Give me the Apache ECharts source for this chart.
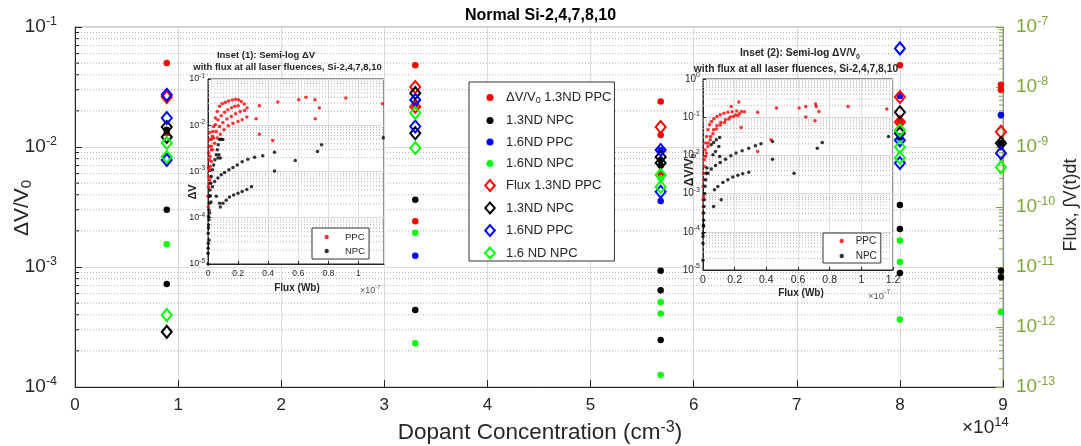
<!DOCTYPE html>
<html><head><meta charset="utf-8">
<script src="https://cdn.jsdelivr.net/npm/echarts@6/dist/echarts.min.js"></script>
<style>html,body{margin:0;padding:0;background:#fff}#c{width:1081px;height:446px}</style>
</head><body><div id="c"></div>
<script>
// ---------- data ----------
// dopant concentration columns (×1e14 cm^-3)
const dopant = [0.89, 3.30, 5.68, 8.00, 8.98];
const xTicks = [0,1,2,3,4,5,6,7,8,9];

// ΔV/V0 values (left axis), one list per dopant column
const dvPPC13 = [[0.050, 0.0131], [0.048, 0.022, 0.0024], [0.0239, 0.0126, 0.0059], [0.048, 0.0162], [0.033, 0.030]];
const dvNPC13 = [[0.0139, 0.0030, 0.00072], [0.00363, 0.000438], [0.0078, 0.0070, 0.00093, 0.00064, 0.000246], [0.00329, 0.00207, 0.00089], [0.0108, 0.00093, 0.00082]];
const dvPPC16 = [[], [0.0233, 0.00124], [0.0094, 0.00355], [0.0266, 0.0119], [0.0185]];
const dvNPC16 = [[0.00155], [0.00193, 0.000231], [0.0055, 0.00051, 0.00041, 0.000126], [0.00166, 0.0011, 0.000366], [0.00042]];

// Flux ∫V(t)dt values (right axis)
const fluxPPC13 = [[6.8e-9], [1.0e-8, 4.7e-9], [2.15e-9], [6.8e-9, 2.6e-9], [1.8e-9]];
const fluxNPC13 = [[2.15e-9, 1.47e-9, 8.3e-13], [7.9e-9, 1.7e-9], [6.8e-10, 5.4e-10], [3.8e-9, 1.7e-9], [1.16e-9]];
const fluxPPC16 = [[7.4e-9, 3.05e-9, 6.1e-10], [6.1e-9, 2.2e-9], [8.9e-10, 1.8e-10], [4.4e-8, 1.3e-9, 5.4e-10], [7.9e-10]];
const fluxNPC16 = [[1.17e-9, 6.8e-10, 1.58e-12], [3.7e-9, 9.6e-10], [3.4e-10, 2.15e-10], [1.9e-9, 1.0e-9, 6.6e-10], [4.6e-10]];

// Inset (1): flux (×1e-7 Wb) vs ΔV
const inset1PPC = [
 [0.011,6.6e-4],[0.015,1.3e-3],[0.022,2.95e-3],[0.029,5.8e-3],[0.038,9.4e-3],[0.049,0.0143],[0.062,0.0199],[0.077,0.0256],[0.095,0.0292],[0.115,0.0313],[0.137,0.0334],[0.161,0.0351],[0.183,0.0363],[0.203,0.0357],[0.221,0.0328],[0.241,0.0288],[0.26,0.0236],
 [0.022,4.9e-3],[0.033,7.3e-3],[0.049,0.0102],[0.066,0.0132],[0.088,0.0161],[0.110,0.019],[0.132,0.0217],[0.157,0.0239],[0.179,0.0256],[0.201,0.0264],
 [0.022,3.5e-3],[0.038,5.3e-3],[0.055,7.3e-3],[0.077,9.4e-3],[0.099,0.0115],[0.126,0.0136],[0.155,0.0155],[0.183,0.0177],[0.214,0.0199],[0.243,0.0209],[0.258,0.015],
 [0.015,2.1e-3],[0.029,2.95e-3],[0.044,4.1e-3],[0.062,5.3e-3],[0.082,6.4e-3],[0.106,8.0e-3],[0.135,9.8e-3],[0.166,0.0111],[0.199,0.0121],[0.227,0.0132],
 [0.342,0.0264],[0.464,0.0318],[0.342,6.4e-3],[0.43,4.7e-3],[0.32,0.0138],[0.603,0.0357],[0.651,0.0401],[0.711,0.0357],[0.74,0.0236],[0.713,0.0138],[0.916,0.0387],[1.16,0.029],
 [0,2.9e-4],[0.004,4.7e-4],[0.007,7.8e-4],[0.011,1.09e-3],[0.022,1.65e-3],[0.002,1.7e-4],[0.009,1.8e-3],[0.013,5.6e-4],[0.005,2.5e-3],[0.008,3.5e-3],[0.01,5e-3],[0.012,7e-3],[0.003,1.2e-3]
];
const inset1NPC = [
 [0,1e-5],[0,1.7e-5],[0.002,2.8e-5],[0.002,4.6e-5],[0.004,7e-5],[0.004,1.06e-4],[0.007,1.48e-4],[0.009,2.06e-4],[0.011,2.9e-4],[0.013,4e-4],[0.018,5.6e-4],[0.022,7.8e-4],[0.007,3.3e-5],[0.011,1.26e-4],[0.001,2.2e-5],[0.003,6e-5],[0.006,9e-5],[0.015,3e-4],[0.02,2.2e-4],
 [0.029,1.09e-3],[0.038,1.39e-3],[0.046,1.79e-3],[0.055,2.3e-3],[0.062,2.95e-3],[0.068,3.8e-3],[0.077,4.9e-3],[0.088,5.0e-3],[0.099,4.9e-3],[0.073,2.3e-3],[0.082,1.95e-3],[0.066,1.95e-3],
 [0.029,4.7e-4],[0.044,6.1e-4],[0.066,7.2e-4],[0.088,8.5e-4],[0.110,9.5e-4],[0.139,1.09e-3],[0.166,1.22e-3],[0.194,1.39e-3],[0.227,1.62e-3],[0.265,1.85e-3],[0.309,2.04e-3],[0.364,2.19e-3],
 [0.055,2.9e-4],[0.077,2.06e-4],[0.082,1.7e-4],[0.099,2.06e-4],[0.121,2.4e-4],[0.143,2.8e-4],[0.170,3.1e-4],[0.199,3.4e-4],[0.227,3.7e-4],[0.258,4.1e-4],[0.289,4.7e-4],
 [0.442,1.03e-3],[0.58,1.73e-3],[0.728,2.7e-3],[0.755,3.8e-3],[0.442,2.6e-3],[1.165,5.4e-3]
];
// Inset (2): flux (×1e-7 Wb) vs ΔV/V0
const inset2PPC = [
 [0,6.9e-4],[0.002,1.55e-3],[0.004,3.4e-3],[0.008,7.7e-3],[0.013,0.014],[0.017,0.021],[0.023,0.0314],[0.031,0.0469],[0.042,0.0634],[0.054,0.0776],[0.069,0.091],[0.088,0.105],[0.109,0.116],[0.132,0.126],[0.157,0.134],[0.184,0.139],[0.213,0.145],[0.243,0.142],[0.262,0.139],
 [0.010,5.1e-3],[0.021,0.0115],[0.033,0.021],[0.048,0.0314],[0.067,0.0469],[0.088,0.0597],[0.113,0.073],[0.142,0.0859],[0.172,0.101],[0.205,0.114],[0.230,0.123],
 [0.017,9.3e-3],[0.031,0.0171],[0.046,0.0256],[0.063,0.0368],[0.084,0.0489],[0.109,0.0622],[0.136,0.073],[0.163,0.0893],[0.192,0.105],[0.22,0.109],
 [0.226,0.249],[0.178,0.192],
 [0.241,0.054],[0.345,0.134],[0.345,0.0127],[0.429,0.0256],[0.464,0.174],[0.607,0.174],[0.649,0.192],[0.649,0.101],[0.711,0.221],[0.715,0.192],[0.732,0.142],[0.707,0.081],[0.916,0.192],[1.161,0.163],
 [0,3.1e-4],[0.002,4.6e-4],[0.004,8.4e-4],[0.006,2.3e-3]
];
const inset2NPC = [
 [0,1.8e-5],[0,5e-5],[0,9.2e-5],[0.002,1.5e-4],[0.004,2.0e-4],[0.004,3.1e-4],[0.006,4.6e-4],[0.008,6.9e-4],[0.010,1.0e-3],[0.013,1.55e-3],[0.017,2.3e-3],[0.021,3.4e-3],[0.025,4.7e-3],[0.004,1.4e-4],[0,7.5e-5],
 [0.052,0.019],[0.067,0.0218],[0.084,0.0256],[0.105,0.0295],[0.1,0.0171],[0.079,0.0127],[0.105,9.3e-3],[0.063,0.0104],
 [0.031,3.4e-3],[0.052,4.4e-3],[0.079,5.4e-3],[0.109,6.5e-3],[0.142,7.9e-3],[0.176,9.8e-3],[0.209,0.0115],[0.247,0.0132],[0.289,0.0155],[0.331,0.0179],[0.366,0.0201],
 [0.067,4.6e-4],[0.073,1.26e-3],[0.094,1.53e-3],[0.126,1.95e-3],[0.157,2.3e-3],[0.188,2.7e-3],[0.22,3.0e-3],[0.251,3.3e-3],[0.289,3.6e-3],[0.115,6.9e-4],
 [0.439,0.0232],[0.439,7.9e-3],[0.575,3.4e-3],[0.722,0.0155],[0.753,0.0219],[1.172,0.0314]
];

const seriesNames = ['ΔV/V0 1.3ND PPC','1.3ND NPC','1.6ND PPC','1.6ND NPC','Flux 1.3ND PPC','1.3ND NPC ','1.6ND PPC ','1.6 ND NPC'];

// ---------- helpers ----------
const FONT = '"Liberation Sans", Arial, Helvetica, sans-serif';
const AX = '#262626';
const OLIVE = '#7ea836';
const RED = '#ff0000', BLK = '#000000', BLU = '#0000ff', GRN = '#00ff00';

function colPts(cols){ const out=[]; cols.forEach((vals,i)=>vals.forEach(v=>out.push([dopant[i], v]))); return out; }
function decadeMinors(lo, hi){ const out=[]; for(let e=lo;e<hi;e++) for(let m=2;m<=9;m++) out.push(+(m*Math.pow(10,e)).toPrecision(3)); return out; }
function expLabel(v){ return '{b|10}{s|' + Math.round(Math.log10(v)) + '}'; }
function expRich(bs, ss, color, lh){ return { b:{fontSize:bs, fontFamily:FONT, color:color, lineHeight:lh}, s:{fontSize:ss, fontFamily:FONT, color:color, verticalAlign:'top', lineHeight:ss} }; }
// legend icons (square bounding box so they stay centred, not stretched)
const dotIcon = 'path://M0,0M12,12M9.5,6A3.5,3.5,0,1,1,2.5,6A3.5,3.5,0,1,1,9.5,6Z';
const diaIcon = 'path://M0,0M12,12M6,0.6L10.8,6L6,11.4L1.2,6Z';
const smallDot = 'path://M0,0M10,10M7.2,5A2.2,2.2,0,1,1,2.8,5A2.2,2.2,0,1,1,7.2,5Z';

function dotSeries(name, color, cols){ return {type:'scatter', name, xAxisIndex:0, yAxisIndex:0, symbol:'circle', symbolSize:6.5, itemStyle:{color, opacity:1}, data:colPts(cols), z:2, silent:true}; }
function diaSeries(name, color, cols){ return {type:'scatter', name, xAxisIndex:0, yAxisIndex:1, symbol:'diamond', symbolSize:[10,12], itemStyle:{color:'rgba(0,0,0,0)', borderColor:color, borderWidth:2, opacity:1}, data:colPts(cols), z:2, silent:true}; }
// horizontal segments (minor dotted grid / minor ticks) drawn through the axes' own scales; '-' breaks the polyline
function segs(xi, yi, vals, x0, x1, style, z){
  const d = []; vals.forEach(v=>{ d.push([x0, v], [x1, v], [x1, '-']); });
  return {type:'line', name:'_seg'+xi+yi+z+x0, xAxisIndex:xi, yAxisIndex:yi, data:d, z:z, silent:true, showSymbol:false, symbol:'none',
    connectNulls:false, lineStyle:style, emphasis:{disabled:true}, animation:false, clip:true};
}
const DOT = {type:[1,2], color:'#b0b0b0', width:1};

function insetX(gi, max, fs){ return {type:'value', gridIndex:gi, min:0, max:max, interval:0.2, z:6,
  axisLine:{show:true, onZero:false, lineStyle:{color:AX}}, axisTick:{show:true, inside:true, length:3, lineStyle:{color:AX}},
  axisLabel:{fontSize:fs, fontFamily:FONT, color:AX, margin:5, showMaxLabel: max>=1.2,
    formatter:v=>{ const r=Math.round(v*5)/5; return Math.abs(r-v)<1e-6 ? String(parseFloat(r.toFixed(1))) : ''; }},
  splitLine:{show:true, lineStyle:{color:'#e2e2e2'}}}; }
function insetY(gi, min, max, bs, ss){ return {type:'log', logBase:10, gridIndex:gi, min:min, max:max, z:6,
  axisLine:{show:true, lineStyle:{color:AX}}, axisTick:{show:true, inside:true, length:3, lineStyle:{color:AX}},
  axisLabel:{formatter:expLabel, margin:3, rich:expRich(bs, ss, AX, bs+4)},
  splitLine:{show:true, lineStyle:{color:'#d8d8d8'}}}; }

function gtext(x, y, text, o){ o = o||{}; return {type:'text', x:x, y:y, rotation:o.rot||0, z:20, silent:true,
  style:{text:text, align:o.align||'center', verticalAlign:'middle', fontSize:o.fs||12, fontWeight:o.fw||'normal', fontFamily:FONT, fill:o.color||AX, rich:o.rich}}; }
function subRich(fs, fw, color){ return { a:{fontSize:fs, fontWeight:fw, fontFamily:FONT, fill:color, color:color, lineHeight:fs+4}, s:{fontSize:Math.round(fs*0.7), fontWeight:fw, fontFamily:FONT, fill:color, color:color, verticalAlign:'bottom', lineHeight:Math.round(fs*0.35)} }; }
function supRich(fs, fw, color){ return { a:{fontSize:fs, fontWeight:fw, fontFamily:FONT, fill:color, color:color, lineHeight:fs+5}, s:{fontSize:Math.round(fs*0.7), fontWeight:fw, fontFamily:FONT, fill:color, color:color, verticalAlign:'top', lineHeight:Math.round(fs*0.7)} }; }

// ---------- option ----------
const chart = echarts.init(document.getElementById('c'), null, {renderer:'canvas'});
const option = {
  animation:false,
  backgroundColor:'#fff',
  title:{text:'Normal Si-2,4,7,8,10', left:'center', top:3, textStyle:{fontSize:16, fontWeight:'bold', fontFamily:FONT, color:'#000'}},
  grid:[
    {left:75, top:27, width:928, height:360, show:true, borderColor:'#9a9a9a', borderWidth:1, backgroundColor:'rgba(0,0,0,0)', z:0},
    {left:208, top:79, width:176, height:185, show:true, backgroundColor:'#fff', borderColor:AX, borderWidth:1, z:5},
    {left:703, top:79, width:190, height:191, show:true, backgroundColor:'#fff', borderColor:AX, borderWidth:1, z:5}
  ],
  xAxis:[
    {type:'value', gridIndex:0, min:0, max:9, interval:1, z:0,
     axisLine:{show:true, onZero:false, lineStyle:{color:AX}}, axisTick:{show:true, inside:true, length:7, lineStyle:{color:AX}},
     axisLabel:{fontSize:17, fontFamily:FONT, color:AX, margin:10, formatter:v=>String(xTicks[Math.round(v)])},
     splitLine:{show:true, lineStyle:{color:'#dcdcdc'}}},
    insetX(1, 1.17, 8.5),
    insetX(2, 1.2, 10.5)
  ],
  yAxis:[
    {type:'log', logBase:10, gridIndex:0, position:'left', min:1e-4, max:1e-1, z:0,
     axisLine:{show:true, lineStyle:{color:AX}}, axisTick:{show:true, inside:true, length:7, lineStyle:{color:AX}},
     axisLabel:{formatter:expLabel, margin:18, rich:expRich(19, 12.5, AX, 24)},
     splitLine:{show:true, lineStyle:{color:'#dcdcdc'}}},
    {type:'log', logBase:10, gridIndex:0, position:'right', min:1e-13, max:1e-7, z:0,
     axisLine:{show:true, lineStyle:{color:OLIVE}}, axisTick:{show:true, inside:true, length:7, lineStyle:{color:OLIVE}},
     axisLabel:{formatter:expLabel, margin:13, rich:expRich(19, 12.5, OLIVE, 24)},
     splitLine:{show:false}},
    insetY(1, 1e-5, 1e-1, 9, 6.5),
    insetY(2, 1e-5, 1, 10, 7)
  ],
  legend:[
    {orient:'vertical', left:469, top:82, padding:[9,3,1,14], itemWidth:22, itemHeight:12, itemGap:8.5,
     backgroundColor:'#fff', borderColor:'#333', borderWidth:1, borderRadius:0, selectedMode:false, z:10,
     data:[{name:seriesNames[0], icon:dotIcon},{name:seriesNames[1], icon:dotIcon},{name:seriesNames[2], icon:dotIcon},{name:seriesNames[3], icon:dotIcon},
           {name:seriesNames[4], icon:diaIcon},{name:seriesNames[5], icon:diaIcon},{name:seriesNames[6], icon:diaIcon},{name:seriesNames[7], icon:diaIcon}],
     formatter:n=> n.indexOf('ΔV/V0')===0 ? '{a|ΔV/V}{s|0}{a|'+n.slice(5)+'}' : '{a|'+n.trim()+'}',
     textStyle:{color:AX, fontFamily:FONT, rich:{a:{fontSize:13, lineHeight:16, fontFamily:FONT, color:AX}, s:{fontSize:9, lineHeight:5, verticalAlign:'bottom', fontFamily:FONT, color:AX}}}},
    {orient:'vertical', left:312, top:228, padding:[4,4,3,9.7], itemWidth:26.6, itemHeight:10, itemGap:4,
     backgroundColor:'#fff', borderColor:'#333', borderWidth:1, borderRadius:0, selectedMode:false, z:12,
     data:[{name:'PPC', icon:smallDot},{name:'NPC', icon:smallDot}], textStyle:{fontSize:9.5, lineHeight:10, fontFamily:FONT, color:AX}},
    {orient:'vertical', left:823, top:233, padding:[3,4,2,13.7], itemWidth:18, itemHeight:10, itemGap:5,
     backgroundColor:'#fff', borderColor:'#333', borderWidth:1, borderRadius:0, selectedMode:false, z:12,
     data:[{name:'PPC', icon:smallDot},{name:'NPC', icon:smallDot}], textStyle:{fontSize:10, lineHeight:10, fontFamily:FONT, color:AX}}
  ],
  series:[
    segs(0, 0, decadeMinors(-4,-1), 0, 9, DOT, 1),
    segs(0, 0, decadeMinors(-4,-1), 0, 0.04, {type:'solid', color:AX, width:1}, 1),
    segs(0, 1, decadeMinors(-13,-7), 8.96, 9, {type:'solid', color:OLIVE, width:1}, 1),
    dotSeries(seriesNames[0], RED, dvPPC13),
    dotSeries(seriesNames[1], BLK, dvNPC13),
    dotSeries(seriesNames[2], BLU, dvPPC16),
    dotSeries(seriesNames[3], GRN, dvNPC16),
    diaSeries(seriesNames[4], RED, fluxPPC13),
    diaSeries(seriesNames[5], BLK, fluxNPC13),
    diaSeries(seriesNames[6], BLU, fluxPPC16),
    diaSeries(seriesNames[7], GRN, fluxNPC16),
    segs(1, 2, decadeMinors(-5,-1), 0, 1.17, DOT, 6),
    segs(2, 3, decadeMinors(-5,0), 0, 1.2, DOT, 6),
    {type:'scatter', name:'PPC', xAxisIndex:1, yAxisIndex:2, symbolSize:3.5, itemStyle:{color:RED}, data:inset1PPC, z:7, silent:true},
    {type:'scatter', name:'NPC', xAxisIndex:1, yAxisIndex:2, symbolSize:3.5, itemStyle:{color:BLK}, data:inset1NPC, z:7, silent:true},
    {type:'scatter', name:'PPC', xAxisIndex:2, yAxisIndex:3, symbolSize:3.5, itemStyle:{color:RED}, data:inset2PPC, z:7, silent:true},
    {type:'scatter', name:'NPC', xAxisIndex:2, yAxisIndex:3, symbolSize:3.5, itemStyle:{color:BLK}, data:inset2NPC, z:7, silent:true}
  ],
  graphic:[
    gtext(22, 208, '{a|ΔV/V}{s|0}', {rot:Math.PI/2, rich:subRich(21,'normal',AX)}),
    gtext(1071, 205, 'Flux, ∫V(t)dt', {rot:Math.PI/2, fs:18}),
    gtext(540, 433, '{a|Dopant Concentration (cm}{s|-3}{a|)}', {rich:supRich(22.5,'normal',AX)}),
    gtext(962, 428, '{a|×10}{s|14}', {align:'left', rich:supRich(19,'normal',AX)}),
    gtext(266, 55, 'Inset (1): Semi-log ΔV', {fs:9.5, fw:'bold'}),
    gtext(287.5, 67, 'with flux at all laser fluences, Si-2,4,7,8,10', {fs:9.5, fw:'bold'}),
    gtext(800, 53, '{a|Inset (2): Semi-log ΔV/V}{s|0}', {rich:subRich(10.3,'bold',AX)}),
    gtext(796, 69, 'with flux at all laser fluences, Si-2,4,7,8,10', {fs:10.3, fw:'bold'}),
    gtext(193, 192, 'ΔV', {rot:Math.PI/2, fs:11, fw:'bold'}),
    gtext(690, 170, '{a|ΔV/V}{s|0}', {rot:Math.PI/2, rich:subRich(12,'bold',AX)}),
    gtext(297, 288, 'Flux (Wb)', {fs:10, fw:'bold'}),
    gtext(801, 293, 'Flux (Wb)', {fs:10, fw:'bold'}),
    gtext(360, 291, '{a|×10}{s|-7}', {align:'left', rich:supRich(9,'normal','#555')}),
    gtext(868, 296, '{a|×10}{s|-7}', {align:'left', rich:supRich(9.5,'normal','#555')})
  ]
};
chart.setOption(option);
</script></body></html>
